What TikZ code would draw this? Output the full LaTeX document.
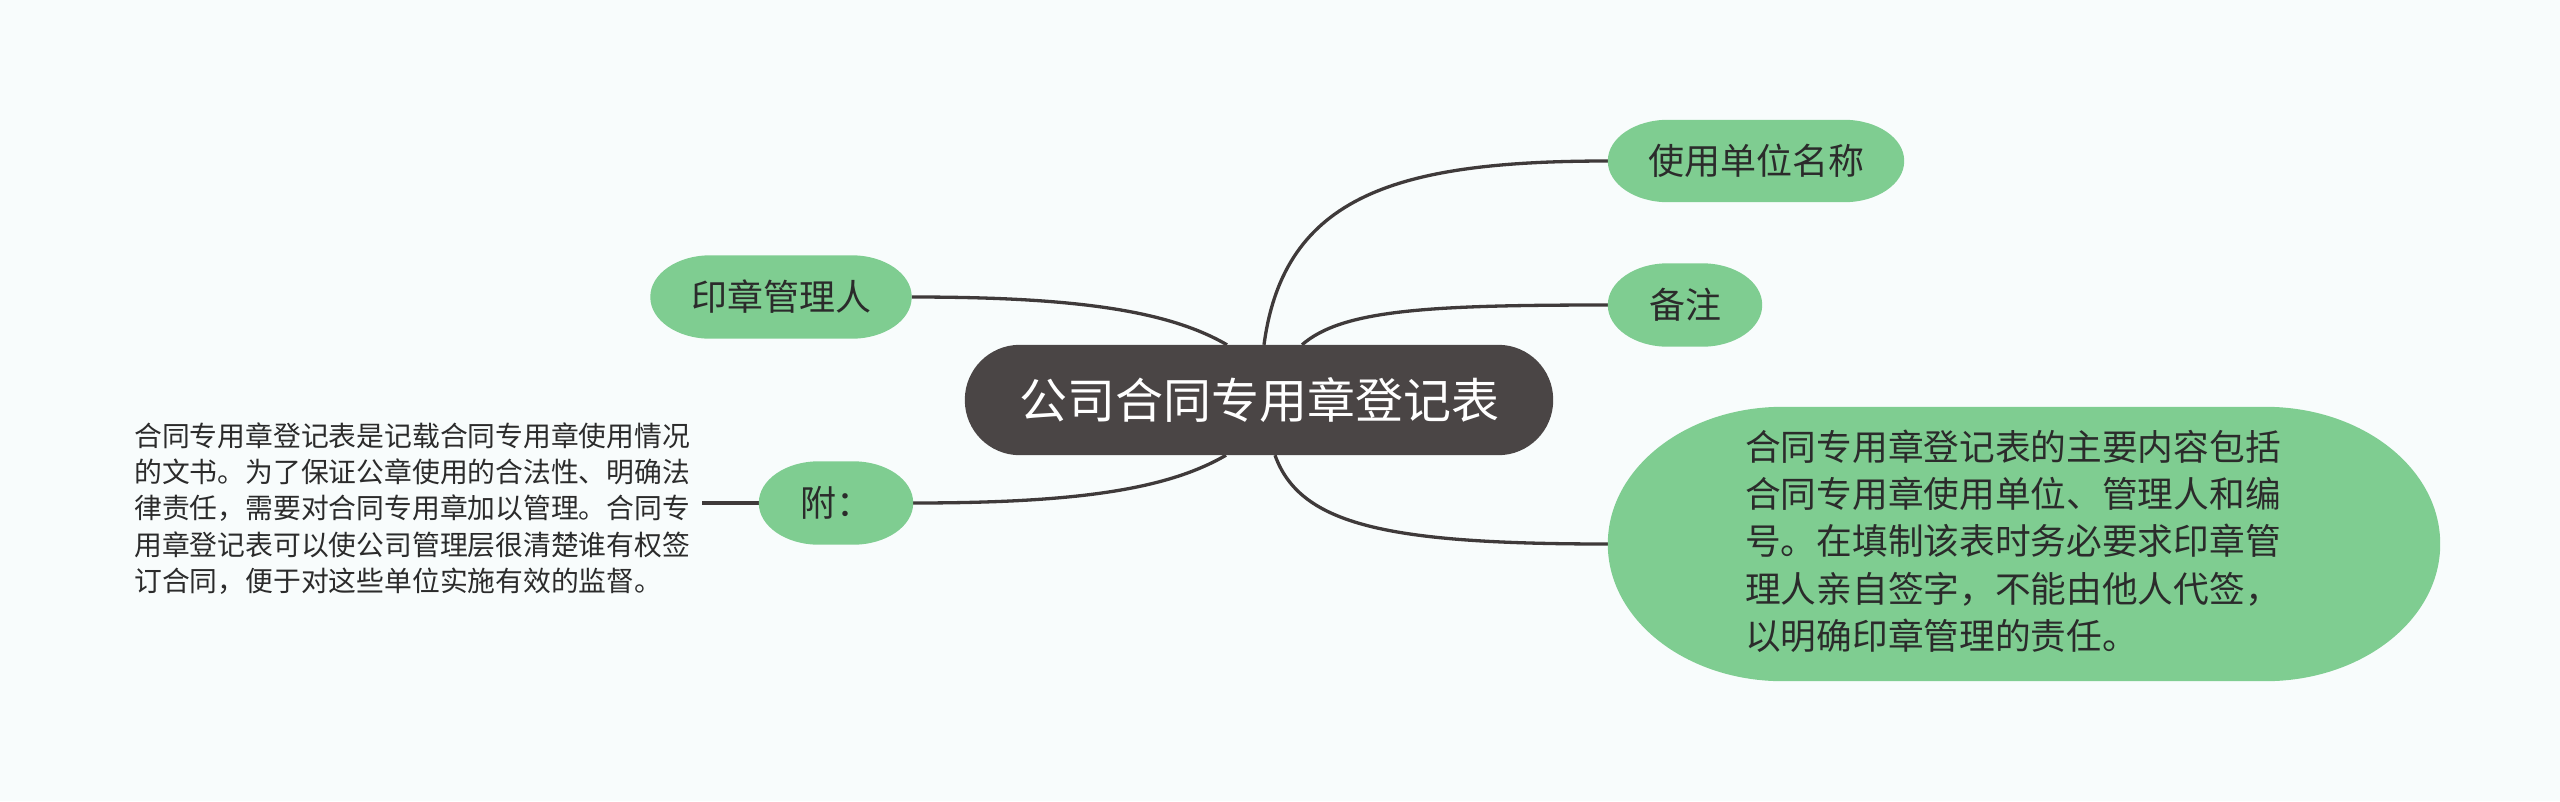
\documentclass[tikz,border=0pt]{standalone}
\usepackage{fontspec}
\setmainfont{Noto Sans CJK SC}
\usetikzlibrary{calc}
\definecolor{bgc}{HTML}{F8FCFC}
\definecolor{grn}{HTML}{7FCD91}
\definecolor{dk}{HTML}{4A4545}
\definecolor{edgec}{HTML}{3F3A3A}
\definecolor{txt}{HTML}{2B2B2B}
\pgfdeclarelayer{back}\pgfdeclarelayer{edges}\pgfdeclarelayer{fills}
\pgfsetlayers{back,edges,fills,main}
% #1 node, #2 colour, #3 x radius, #4 y radius
\newcommand\ebg[4]{%
  \fill[#2] ($(#1.north west)+(#3,0)$) -- ($(#1.north east)+(-#3,0)$)
    arc[start angle=90,end angle=0,x radius=#3pt,y radius=#4pt]
    -- ($(#1.south east)+(0,#4)$)
    arc[start angle=0,end angle=-90,x radius=#3pt,y radius=#4pt]
    -- ($(#1.south west)+(#3,0)$)
    arc[start angle=270,end angle=180,x radius=#3pt,y radius=#4pt]
    -- ($(#1.north west)+(0,-#4)$)
    arc[start angle=180,end angle=90,x radius=#3pt,y radius=#4pt]
    -- cycle;}
\begin{document}
\begin{tikzpicture}[x=1pt,y=1pt,
  topic/.style={rectangle, inner sep=0pt, text=txt, font=\fontsize{36}{44}\selectfont},
  central/.style={rectangle, inner sep=0pt, text=white, font=\fontsize{48}{56}\selectfont},
  para/.style={inner sep=0pt, align=left, text=txt},
  link/.style={draw=edgec, line width=3.3pt}]
\begin{pgfonlayer}{back}
\fill[bgc] (0,0) rectangle (2560,-801);
\end{pgfonlayer}
\useasboundingbox (0,0) rectangle (2560,-801);

\node[central, minimum width=588pt, minimum height=110pt] (cen) at (1259,-400) {公司合同专用章登记表};
\node[topic, minimum width=296pt, minimum height=82pt] (use) at (1756,-161) {使用单位名称};
\node[topic, minimum width=154pt, minimum height=83pt] (note) at (1685,-305) {备注};
\node[topic, minimum width=261pt, minimum height=83pt] (mgr) at (781,-297) {印章管理人};
\node[topic, minimum width=154pt, minimum height=83pt] (fu) at (836,-503) {附：};
\node[topic, minimum width=832pt, minimum height=274pt] (big) at (2024,-544) {};
\node[para, anchor=west, font=\fontsize{35.7}{47.3}\selectfont] (bigtxt) at (1745,-541) {合同专用章登记表的主要内容包括\\合同专用章使用单位、管理人和编\\号。在填制该表时务必要求印章管\\理人亲自签字，不能由他人代签，\\以明确印章管理的责任。};
\node[para, anchor=west, font=\fontsize{27.8}{36.3}\selectfont] (desc) at (134,-508.5) {合同专用章登记表是记载合同专用章使用情况\\的文书。为了保证公章使用的合法性、明确法\\律责任，需要对合同专用章加以管理。合同专\\用章登记表可以使公司管理层很清楚谁有权签\\订合同，便于对这些单位实施有效的监督。};

\begin{pgfonlayer}{fills}
\ebg{cen}{dk}{55}{55}
\ebg{use}{grn}{60}{41}
\ebg{note}{grn}{60}{41.5}
\ebg{mgr}{grn}{60}{41.5}
\ebg{fu}{grn}{60}{41.5}
\ebg{big}{grn}{175}{137}
\end{pgfonlayer}

\begin{pgfonlayer}{edges}
\draw[link] ([xshift=5pt]cen.north) .. controls +(20,150) and +(-210,0) .. (use.west);
\draw[link] ([xshift=43pt]cen.north) .. controls +(40,35) and +(-180,0) .. (note.west);
\draw[link] (mgr.east) .. controls +(160,0) and +(-60,35) .. ([xshift=-32pt]cen.north);
\draw[link] (fu.east) .. controls +(160,0) and +(-60,-35) .. ([xshift=-33pt]cen.south);
\draw[link] ([xshift=16pt]cen.south) .. controls +(25,-70) and +(-220,0) .. (big.west);
\draw[link] ($(desc.east |- fu.west)+(12,0)$) -- (fu.west);
\end{pgfonlayer}
\end{tikzpicture}
\end{document}
